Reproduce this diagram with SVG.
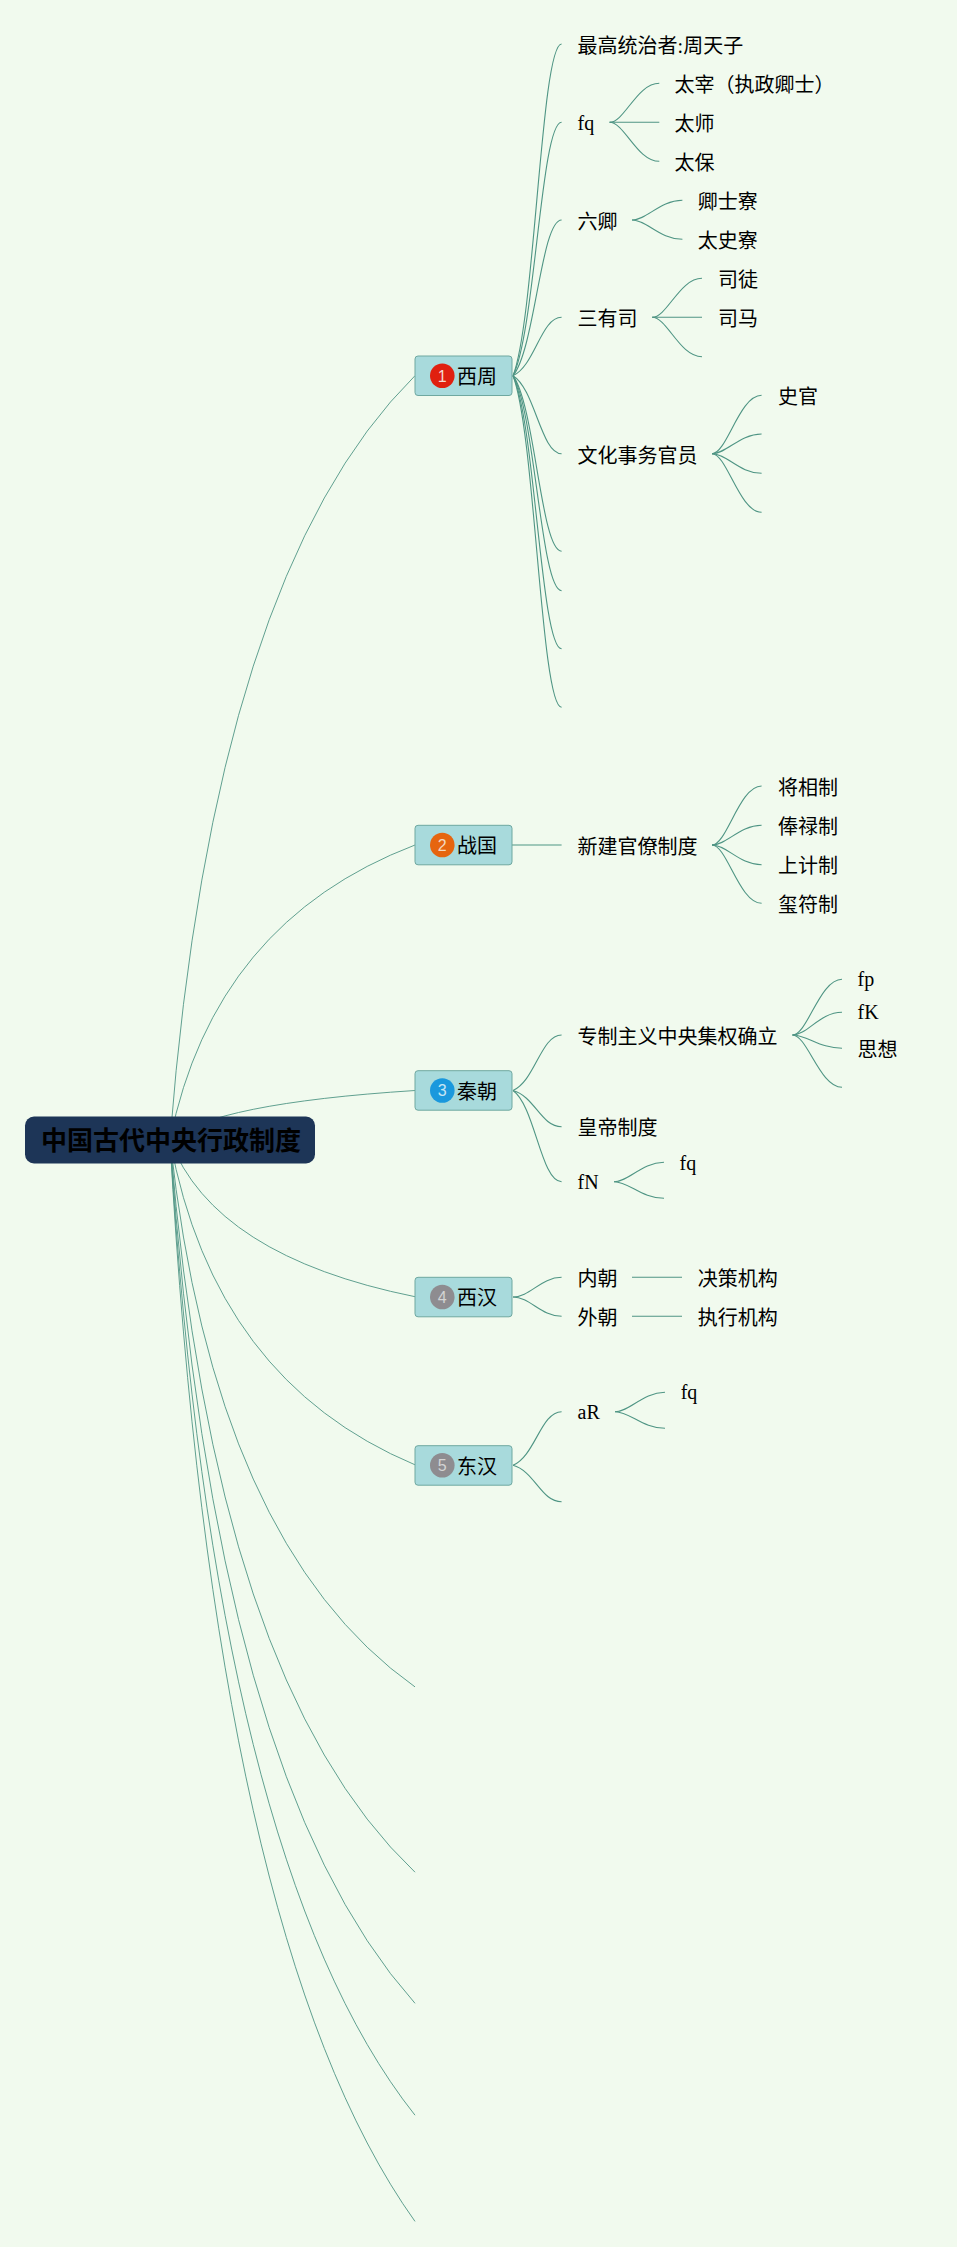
<svg xmlns="http://www.w3.org/2000/svg" width="957" height="2247" viewBox="0 0 957 2247">
<style>
.l{fill:none;stroke:#4f9584;stroke-width:1.1}
.r{fill:none;stroke:#4f9584;stroke-width:.9}
text{font-family:"Liberation Serif","Noto Sans CJK SC",serif;font-size:20px;fill:#000}
.t{fill:#a8dadc;stroke:#6fa8a0;stroke-width:1}
.n{font-family:"Liberation Sans",sans-serif;font-size:16px;text-anchor:middle}
</style>
<rect width="957" height="2247" fill="#f1faee"/>
<g id="connectors">
<path class="r" d="M170 1140Q214 574.4 415 375.7"/>
<path class="r" d="M170 1140Q214 921.7 415 845"/>
<path class="r" d="M170 1140Q214 1103.4 415 1090.5"/>
<path class="r" d="M170 1140Q214 1256 415 1296.7"/>
<path class="r" d="M170 1140Q214 1380.4 415 1464.8"/>
<path class="r" d="M170 1140Q214 1544.7 415 1686.9"/>
<path class="r" d="M170 1140Q214 1681.8 415 1872.2"/>
<path class="r" d="M170 1140Q214 1778.8 415 2003.3"/>
<path class="r" d="M170 1140Q214 1861.6 415 2115.2"/>
<path class="r" d="M170 1140Q214 1940.2 415 2221.4"/>
<path class="l" d="M513 375.7C535 319.3 541 44 561.6 44"/>
<path class="l" d="M513 375.7C535 332.6 541 122.3 561.6 122.3"/>
<path class="l" d="M513 375.7C535 349.2 541 220 561.6 220"/>
<path class="l" d="M513 375.7C535 365.8 541 317.3 561.6 317.3"/>
<path class="l" d="M513 375.7C535 389 541 453.7 561.6 453.7"/>
<path class="l" d="M513 375.7C535 405.6 541 551.3 561.6 551.3"/>
<path class="l" d="M513 375.7C535 412.3 541 590.7 561.6 590.7"/>
<path class="l" d="M513 375.7C535 422.1 541 648.7 561.6 648.7"/>
<path class="l" d="M513 375.7C535 432.1 541 707.3 561.6 707.3"/>
<path class="l" d="M609.6 122.3C624.5 122.3 636.9 83.3 659.3 83.3"/>
<path class="l" d="M609.6 122.3H659.3"/>
<path class="l" d="M609.6 122.3C624.5 122.3 636.9 161.3 659.3 161.3"/>
<path class="l" d="M632 220C647.1 220 659.7 200.3 682.4 200.3"/>
<path class="l" d="M632 220C647.1 220 659.7 239.3 682.4 239.3"/>
<path class="l" d="M652.2 317.3C667.1 317.3 679.6 278.3 702 278.3"/>
<path class="l" d="M652.2 317.3H702"/>
<path class="l" d="M652.2 317.3C667.1 317.3 679.6 356.7 702 356.7"/>
<path class="l" d="M712 453.7C726.9 453.7 739.3 395.3 761.6 395.3"/>
<path class="l" d="M712 453.7C726.9 453.7 739.3 434 761.6 434"/>
<path class="l" d="M712 453.7C726.9 453.7 739.3 473.3 761.6 473.3"/>
<path class="l" d="M712 453.7C726.9 453.7 739.3 512.3 761.6 512.3"/>
<path class="l" d="M512 845H561.6"/>
<path class="l" d="M712 845C726.9 845 739.3 786 761.6 786"/>
<path class="l" d="M712 845C726.9 845 739.3 825.3 761.6 825.3"/>
<path class="l" d="M712 845C726.9 845 739.3 864.7 761.6 864.7"/>
<path class="l" d="M712 845C726.9 845 739.3 903.3 761.6 903.3"/>
<path class="l" d="M513 1090.5C535 1081 541 1035 561.6 1035"/>
<path class="l" d="M513 1090.5C535 1096.7 541 1126.7 561.6 1126.7"/>
<path class="l" d="M513 1090.5C535 1106 541 1181.7 561.6 1181.7"/>
<path class="l" d="M792.5 1035C807.4 1035 819.7 979.3 842 979.3"/>
<path class="l" d="M792.5 1035C807.4 1035 819.7 1012.3 842 1012.3"/>
<path class="l" d="M792.5 1035C807.4 1035 819.7 1048.3 842 1048.3"/>
<path class="l" d="M792.5 1035C807.4 1035 819.7 1087.3 842 1087.3"/>
<path class="l" d="M614 1181.7C629 1181.7 641.5 1162.3 664 1162.3"/>
<path class="l" d="M614 1181.7C629 1181.7 641.5 1198.3 664 1198.3"/>
<path class="l" d="M513 1297C530 1297 541 1277.3 561.6 1277.3"/>
<path class="l" d="M513 1297C530 1297 541 1316.3 561.6 1316.3"/>
<path class="l" d="M632 1277.3H682"/>
<path class="l" d="M632 1316.3H682"/>
<path class="l" d="M513 1465.3C535 1456.2 541 1411.7 561.6 1411.7"/>
<path class="l" d="M513 1465.3C535 1471.5 541 1501.7 561.6 1501.7"/>
<path class="l" d="M615 1411.7C630 1411.7 642.5 1392.3 665 1392.3"/>
<path class="l" d="M615 1411.7C630 1411.7 642.5 1428.3 665 1428.3"/>
</g>
<g id="root"><rect x="25" y="1116.5" width="290" height="47" rx="9" fill="#1d3557"/><text x="41" y="1150" style="font-size:26px;font-weight:bold">中国古代中央行政制度</text></g>
<g id="t1"><rect class="t" x="415" y="356" width="97" height="39.5" rx="3"/><circle cx="442.3" cy="375.7" r="12.3" fill="#e0200f"/><text class="n" x="442.3" y="381.5" style="fill:#f4d9d0">1</text><text x="457" y="384">西周</text></g>
<g id="t2"><rect class="t" x="415" y="825.3" width="97" height="39.5" rx="3"/><circle cx="442.3" cy="845" r="12.3" fill="#e6650f"/><text class="n" x="442.3" y="850.8" style="fill:#f4d9c0">2</text><text x="457" y="853.3">战国</text></g>
<g id="t3"><rect class="t" x="415" y="1070.7" width="97" height="39.5" rx="3"/><circle cx="442.3" cy="1090.5" r="12.3" fill="#1a98dd"/><text class="n" x="442.3" y="1096.3" style="fill:#c8e6f4">3</text><text x="457" y="1098.8">秦朝</text></g>
<g id="t4"><rect class="t" x="415" y="1277.3" width="97" height="39.5" rx="3"/><circle cx="442.3" cy="1297" r="12.3" fill="#8e8c90"/><text class="n" x="442.3" y="1302.8" style="fill:#d4d4d4">4</text><text x="457" y="1305.3">西汉</text></g>
<g id="t5"><rect class="t" x="415" y="1445.7" width="97" height="39.5" rx="3"/><circle cx="442.3" cy="1465.3" r="12.3" fill="#8e8c90"/><text class="n" x="442.3" y="1471.1" style="fill:#d4d4d4">5</text><text x="457" y="1473.6">东汉</text></g>
<g id="n1"><text x="577.6" y="53">最高统治者:周天子</text></g>
<g id="n2"><text x="577.6" y="129.5">fq</text></g>
<g id="n3"><text x="674.6" y="91.5">太宰（执政卿士）</text></g>
<g id="n4"><text x="674.6" y="130.5">太师</text></g>
<g id="n5"><text x="674.6" y="169.5">太保</text></g>
<g id="n6"><text x="577.6" y="229">六卿</text></g>
<g id="n7"><text x="697.7" y="209">卿士寮</text></g>
<g id="n8"><text x="697.7" y="248">太史寮</text></g>
<g id="n9"><text x="577.6" y="326">三有司</text></g>
<g id="n10"><text x="718" y="287">司徒</text></g>
<g id="n11"><text x="718" y="326">司马</text></g>
<g id="n12"><text x="577.6" y="462.5">文化事务官员</text></g>
<g id="n13"><text x="778" y="404">史官</text></g>
<g id="n14"><text x="577.6" y="853.5">新建官僚制度</text></g>
<g id="n15"><text x="778" y="794.5">将相制</text></g>
<g id="n16"><text x="778" y="834">俸禄制</text></g>
<g id="n17"><text x="778" y="873">上计制</text></g>
<g id="n18"><text x="778" y="912">玺符制</text></g>
<g id="n19"><text x="577.6" y="1043.5">专制主义中央集权确立</text></g>
<g id="n20"><text x="857.5" y="986">fp</text></g>
<g id="n21"><text x="857.5" y="1019">fK</text></g>
<g id="n22"><text x="857.5" y="1057">思想</text></g>
<g id="n23"><text x="577.6" y="1135">皇帝制度</text></g>
<g id="n24"><text x="577.6" y="1188.5">fN</text></g>
<g id="n25"><text x="679.6" y="1169.5">fq</text></g>
<g id="n26"><text x="577.6" y="1286">内朝</text></g>
<g id="n27"><text x="577.6" y="1325">外朝</text></g>
<g id="n28"><text x="697.7" y="1286">决策机构</text></g>
<g id="n29"><text x="697.7" y="1325">执行机构</text></g>
<g id="n30"><text x="577.6" y="1418.5">aR</text></g>
<g id="n31"><text x="680.7" y="1399">fq</text></g>
</svg>
